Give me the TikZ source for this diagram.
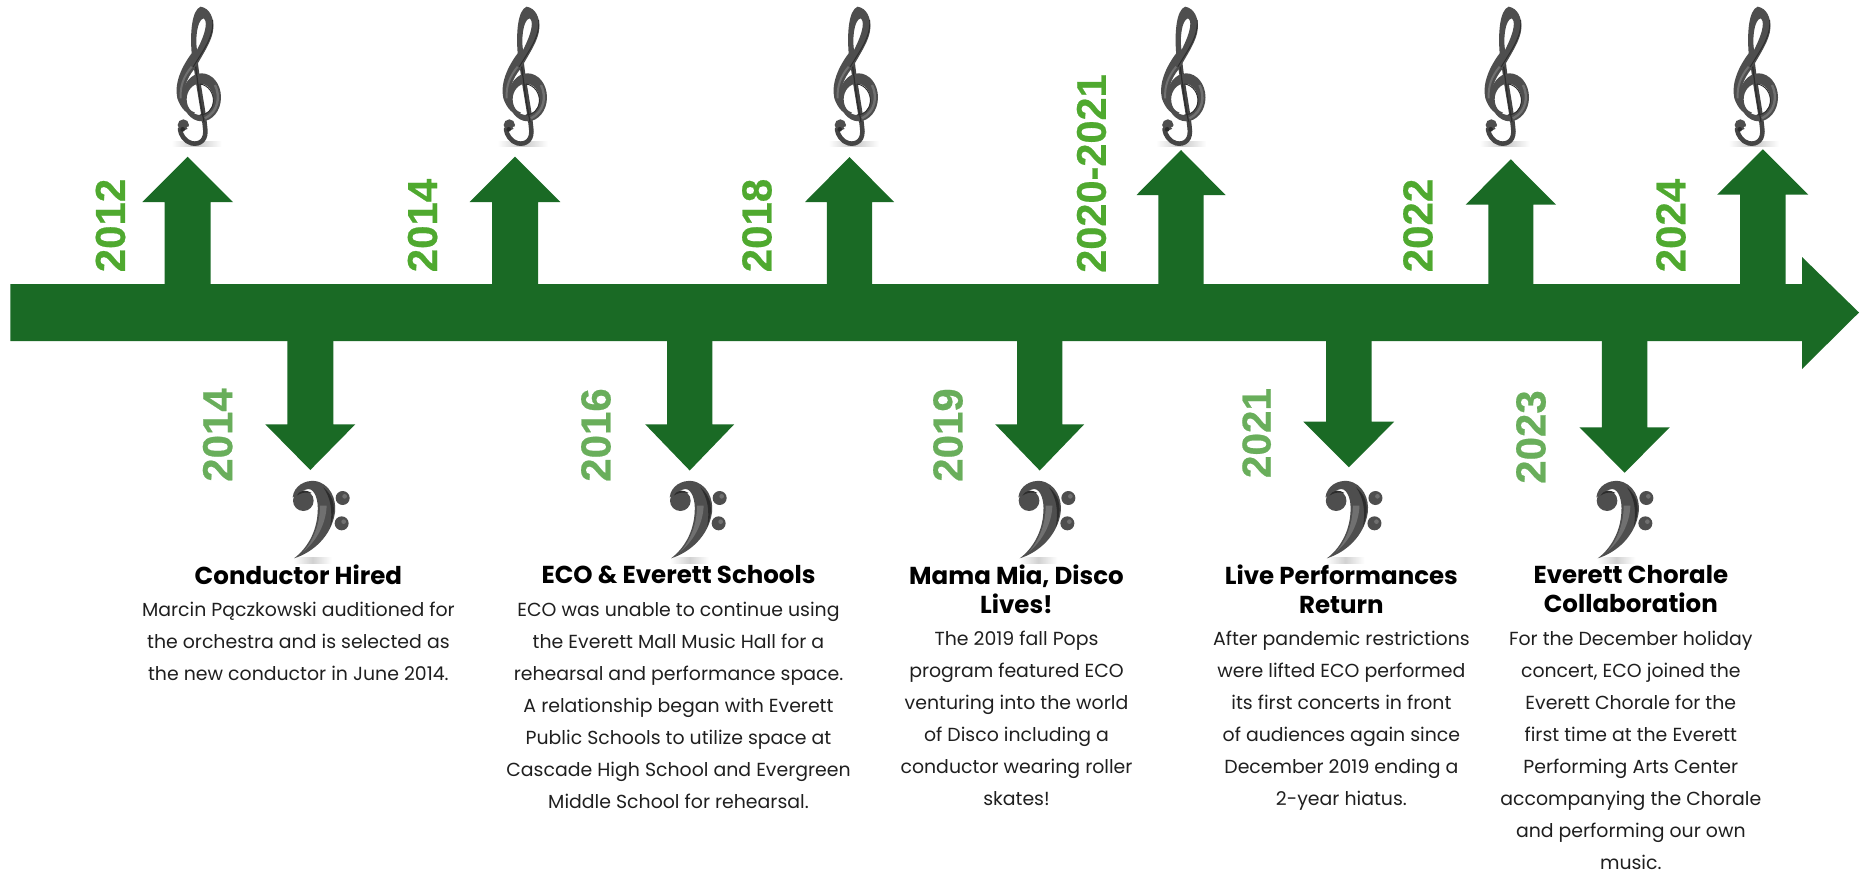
\documentclass[tikz,border=0pt]{standalone}
\usepackage{fontspec}
\setmainfont{Poppins}
\newfontfamily\yearfont{Liberation Sans}[BoldFont={Liberation Sans Bold},BoldFeatures={FakeBold=0.5}]
\definecolor{barc}{HTML}{1A6A25}
\definecolor{yearup}{HTML}{4FA92F}
\definecolor{yeardn}{HTML}{69AE5B}
\definecolor{clefm}{HTML}{4E4E4E}
\definecolor{clefd}{HTML}{2C2C2C}
\definecolor{clefl}{HTML}{707070}
\tikzset{
  barfill/.style={fill=barc,draw=none},
  yearu/.style={font=\yearfont\bfseries\fontsize{42}{42}\selectfont,text=yearup,rotate=90,inner sep=0pt,anchor=center},
  yeard/.style={font=\yearfont\bfseries\fontsize{42}{42}\selectfont,text=yeardn,rotate=90,inner sep=0pt,anchor=center},
  headtxt/.style={font=\bfseries\fontsize{24.5}{29}\selectfont,align=center,inner sep=0pt,anchor=north,text=black},
  bodytxt/.style={font=\fontsize{18.9}{32}\selectfont,align=center,inner sep=0pt,anchor=north,text=black!88},
  treble/.pic={
    \begin{scope}[x=0.3333pt,y=-0.3333pt]
      \shade[left color=white,right color=white,middle color=black!22] (65,425) rectangle (215,440);
      % stem and curl
      \draw[clefm!70!clefd,line width=4.6pt,line cap=round] (137,190) .. controls (145,260) and (160,330) .. (165,380)
        .. controls (172,420) and (150,435) .. (125,430) .. controls (105,425) and (92,405) .. (90,388);
      \fill[clefm] (100,375) circle (17);
      \fill[clefd] (98,388) circle (7);
      \fill[white] (113,383) circle (3);
      % ring
      \fill[clefm,even odd rule] (155,292) ellipse [x radius=58,y radius=72] (150,298) ellipse [x radius=40,y radius=47];
      \draw[clefl,line width=2.4pt] (195,255) .. controls (212,290) and (205,335) .. (165,355);
      \draw[clefd,line width=0.9pt] (150,252) .. controls (175,255) and (192,280) .. (190,305) .. controls (188,330) and (170,345) .. (150,345);
      % S body and top loop
      \fill[clefm,even odd rule] (152,20) .. controls (180,25) and (192,55) .. (190,85)
        .. controls (188,120) and (160,160) .. (135,205)
        .. controls (105,240) and (100,270) .. (105,300)
        .. controls (110,320) and (118,332) .. (135,338)
        .. controls (115,352) and (92,325) .. (82,295)
        .. controls (72,250) and (95,200) .. (125,160)
        .. controls (120,100) and (125,30) .. (152,20) -- cycle
        (160,55) .. controls (172,60) and (172,90) .. (141,150)
        .. controls (136,120) and (140,62) .. (160,55) -- cycle;
      \draw[clefd,line width=0.9pt] (188,60) .. controls (192,110) and (160,150) .. (130,200);
      \draw[clefl,line width=2pt] (125,200) .. controls (100,230) and (90,260) .. (92,295);
      \draw[clefd,line width=1.2pt] (137,200) -- (150,300) -- (162,365);
    \end{scope}
  },
  bass/.pic={
    \begin{scope}[x=0.3333pt,y=-0.3333pt]
      \shade[left color=white,right color=white,middle color=black!18] (70,264) rectangle (185,282);
      \fill[clefm] (68,85) .. controls (72,50) and (105,33) .. (135,36)
        .. controls (180,43) and (200,90) .. (195,130)
        .. controls (185,200) and (130,250) .. (72,268)
        .. controls (110,240) and (140,190) .. (143,130)
        .. controls (146,95) and (135,60) .. (115,60)
        .. controls (95,62) and (85,75) .. (68,85) -- cycle;
      \fill[clefm] (100,95) circle (31);
      \fill[clefd] (80,80) .. controls (88,65) and (105,60) .. (125,72) .. controls (105,68) and (92,72) .. (80,80) -- cycle;
      \fill[clefd] (160,55) .. controls (195,85) and (200,120) .. (180,175)
        .. controls (190,120) and (180,85) .. (160,55) -- cycle;
      \fill[clefl] (150,110) .. controls (150,165) and (130,215) .. (100,248)
        .. controls (140,215) and (168,165) .. (170,110) -- cycle;
      \fill[clefm] (218,87) circle (21);
      \fill[clefm] (215,163) circle (21);
      \fill[clefl] (224,82) circle (7);
      \fill[clefl] (221,158) circle (7);
    \end{scope}
  }
}
\begin{document}
\begin{tikzpicture}[x=1pt,y=-1pt]
\useasboundingbox (0,0) rectangle (1863,871);
\fill[white] (0,0) rectangle (1863,871);
% main arrow
\fill[barfill] (10.4,284) -- (1802,284) -- (1802,257) -- (1859,312.5) -- (1802,369) -- (1802,341) -- (10.4,341) -- cycle;
% up arrows
\foreach \tx/\ty/\by/\hh/\hs in {187.7/156.7/202/45.3/23, 515/156.7/202/45.3/23, 849.5/157/202/44.5/22.6, 1181/150/195/44.5/22.6, 1510.8/159.3/204.7/45.2/22.5, 1762.8/149.3/194.7/45.6/22.8}{
  \fill[barfill] (\tx,\ty) -- ({\tx+\hh},\by) -- ({\tx+\hs},\by) -- ({\tx+\hs},290) -- ({\tx-\hs},290) -- ({\tx-\hs},\by) -- ({\tx-\hh},\by) -- cycle;
}
% down arrows
\foreach \tx/\ty/\by/\hh/\hs in {310.3/470/424.3/45/23, 689.7/470.5/424.3/44.5/22.6, 1039.7/470.5/424.3/44.5/22.6, 1348.8/467.3/421.7/45.4/22.8, 1624.6/472.7/427.3/45.2/22.8}{
  \fill[barfill] (\tx,\ty) -- ({\tx+\hh},\by) -- ({\tx+\hs},\by) -- ({\tx+\hs},335) -- ({\tx-\hs},335) -- ({\tx-\hs},\by) -- ({\tx-\hh},\by) -- cycle;
}
% clefs
\foreach \xx in {150,476,807,1134.5,1458,1707}{ \pic at (\xx,0) {treble}; }
\foreach \xx in {270,647,995.7,1302.8,1573.7}{ \pic at (\xx,469) {bass}; }
% years
\node[yearu] (y1) at (110.5,225.5) {2012};
\node[yearu] (y2) at (422.6,225.5) {2014};
\node[yearu] (y3) at (757,225.5) {2018};
\node[yearu,font=\yearfont\bfseries\fontsize{41.5}{42}\selectfont] (y4) at (1091.5,173.5) {2020-2021};
\node[yearu] (y5) at (1418,225.5) {2022};
\node[yearu] (y6) at (1671,225.5) {2024};
\node[yeard] (d1) at (217.7,435) {2014};
\node[yeard] (d2) at (596,435) {2016};
\node[yeard] (d3) at (948,435) {2019};
\node[yeard,font=\yearfont\bfseries\fontsize{40.5}{42}\selectfont] (d4) at (1256.6,433) {2021};
\node[yeard] (d5) at (1531,437) {2023};
% headings
\node[headtxt] (h1) at (298.4,565) {Conductor Hired};
\node[headtxt] (h2) at (678.5,565) {ECO \& Everett Schools};
\node[headtxt] (h3) at (1016.5,565) {Mama Mia, Disco\\Lives!};
\node[headtxt] (h4) at (1341.4,565) {Live Performances\\Return};
\node[headtxt] (h5) at (1630.8,565) {Everett Chorale\\Collaboration};
% bodies
\node[bodytxt] (b1) at (298.4,602) {Marcin Pączkowski auditioned for\\the orchestra and is selected as\\the new conductor in June 2014.};
\node[bodytxt] (b2) at (678.5,602) {ECO was unable to continue using\\the Everett Mall Music Hall for a\\rehearsal and performance space.\\A relationship began with Everett\\Public Schools to utilize space at\\Cascade High School and Evergreen\\Middle School for rehearsal.};
\node[bodytxt] (b3) at (1016.5,631) {The 2019 fall Pops\\program featured ECO\\venturing into the world\\of Disco including a\\conductor wearing roller\\skates!};
\node[bodytxt] (b4) at (1341.4,631) {After pandemic restrictions\\were lifted ECO performed\\its first concerts in front\\of audiences again since\\December 2019 ending a\\2-year hiatus.};
\node[bodytxt] (b5) at (1630.8,631) {For the December holiday\\concert, ECO joined the\\Everett Chorale for the\\first time at the Everett\\Performing Arts Center\\accompanying the Chorale\\and performing our own\\music.};
\end{tikzpicture}
\end{document}
